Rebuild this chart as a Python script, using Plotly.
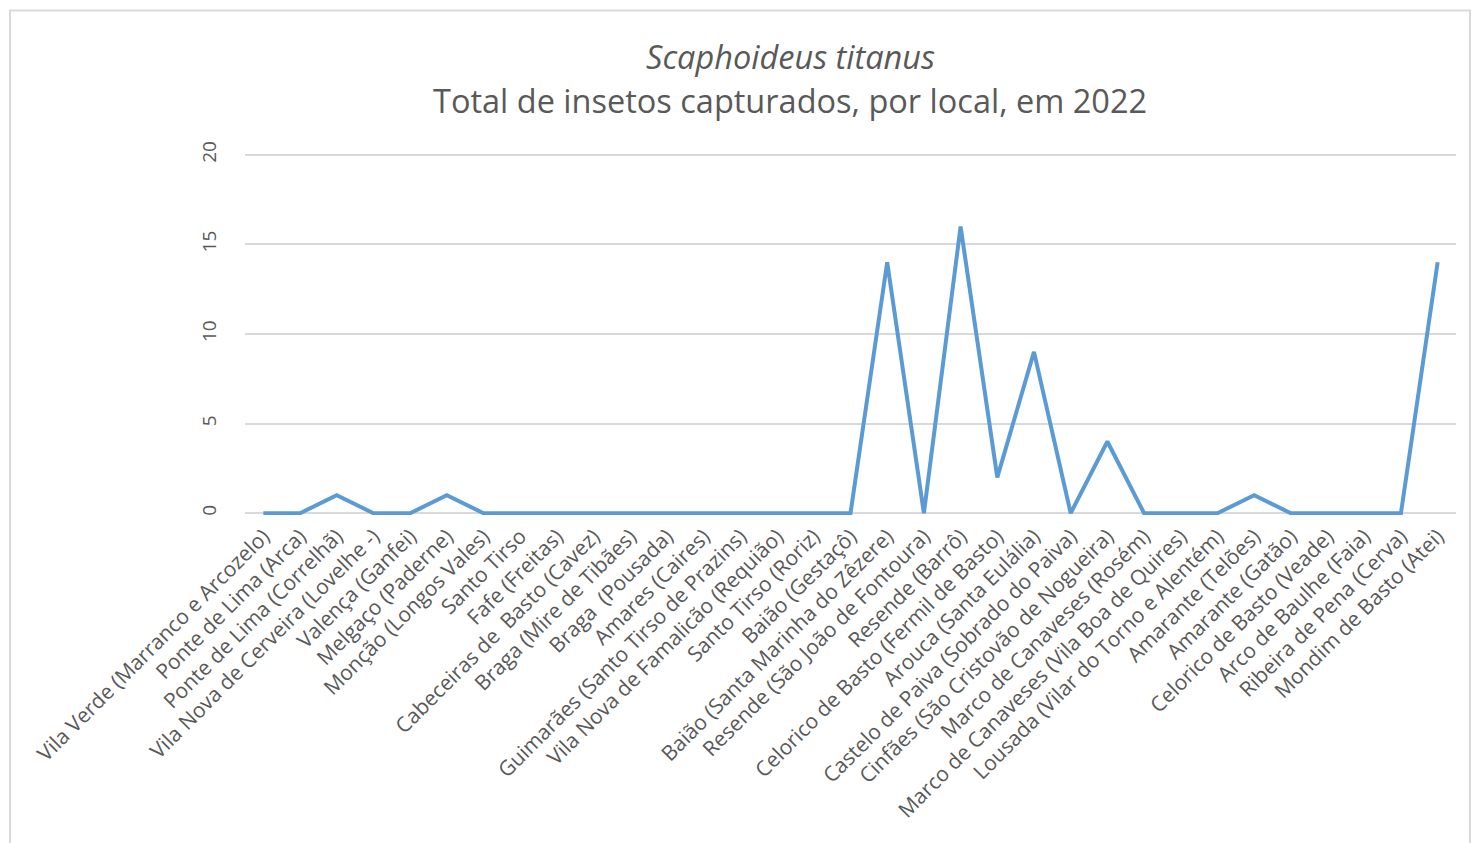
import plotly.graph_objects as go

locais = [
    "Vila Verde (Marranco e Arcozelo)",
    "Ponte de Lima (Arca)",
    "Ponte de Lima (Correlhã)",
    "Vila Nova de Cerveira (Lovelhe -)",
    "Valença (Ganfei)",
    "Melgaço (Paderne)",
    "Monção (Longos Vales)",
    "Santo Tirso",
    "Fafe (Freitas)",
    "Cabeceiras de  Basto (Cavez)",
    "Braga (Mire de Tibães)",
    "Braga  (Pousada)",
    "Amares (Caires)",
    "Guimarães (Santo Tirso de Prazins)",
    "Vila Nova de Famalicão (Requião)",
    "Santo Tirso (Roriz)",
    "Baião (Gestaçô)",
    "Baião (Santa Marinha do Zêzere)",
    "Resende (São João de Fontoura)",
    "Resende (Barrô)",
    "Celorico de Basto (Fermil de Basto)",
    "Arouca (Santa Eulália)",
    "Castelo de Paiva (Sobrado do Paiva)",
    "Cinfães (São Cristovão de Nogueira)",
    "Marco de Canaveses (Rosém)",
    "Marco de Canaveses (Vila Boa de Quires)",
    "Lousada (Vilar do Torno e Alentém)",
    "Amarante (Telões)",
    "Amarante (Gatão)",
    "Celorico de Basto (Veade)",
    "Arco de Baulhe (Faia)",
    "Ribeira de Pena (Cerva)",
    "Mondim de Basto (Atei)",
]
capturas = [0, 0, 1, 0, 0, 1, 0, 0, 0, 0, 0, 0, 0, 0, 0, 0, 0,
            14, 0, 16, 2, 9, 0, 4, 0, 0, 0, 1, 0, 0, 0, 0, 14]
y_ticks = [0, 5, 10, 15, 20]

W, H = 1475, 843
# plot area: y=20 at 155px, y=0 at 513px (17.9 px per unit)
ppu = (513 - 155) / 20
pad = 0.1
L, R = 245, 19
T = 155 - pad * ppu
B = H - (513 + pad * ppu)

fig = go.Figure()
fig.add_trace(go.Scatter(
    x=list(range(len(locais))), y=capturas, mode="lines",
    line=dict(color="#5b9bd5", width=4), hoverinfo="x+y", showlegend=False,
))

font = "Open Sans, Segoe UI, Calibri, sans-serif"
fig.update_layout(
    width=W, height=H,
    margin=dict(l=L, r=R, t=T, b=B),
    paper_bgcolor="white", plot_bgcolor="white",
    font=dict(family=font, color="#595959"),
    xaxis=dict(
        tickmode="array", tickvals=list(range(len(locais))), ticktext=locais,
        range=[-0.5, len(locais) - 0.5], tickangle=-45,
        tickfont=dict(size=21, color="#595959"),
        showgrid=False, zeroline=False, showline=False, ticks="",
        ticklabelstandoff=4,
    ),
    yaxis=dict(
        range=[-pad, 20 + pad], tickvals=y_ticks, tickangle=-90,
        tickfont=dict(size=19, color="#595959"),
        showgrid=True, gridcolor="#d9d9d9", gridwidth=2,
        zeroline=False, showline=False, ticks="", ticklabelstandoff=24,
    ),
)

# chart border
px = lambda v: (v - L) / (W - L - R)
py = lambda v: 1 - (v - T) / (H - T - B)
fig.add_shape(type="rect", xref="paper", yref="paper",
              x0=px(10), x1=px(1470), y0=py(11), y1=py(860),
              line=dict(color="#d9d9d9", width=2), layer="below")

cx = px(790)
fig.add_annotation(text="<i>Scaphoideus titanus</i>", xref="paper", yref="paper",
                   x=cx, y=py(57), yanchor="middle", showarrow=False,
                   font=dict(size=32.5, color="#595959", family=font))
fig.add_annotation(text="Total de insetos capturados, por local, em 2022",
                   xref="paper", yref="paper", x=cx, y=py(101), yanchor="middle",
                   showarrow=False,
                   font=dict(size=32.5, color="#595959", family=font))

fig.write_html("out.html")
